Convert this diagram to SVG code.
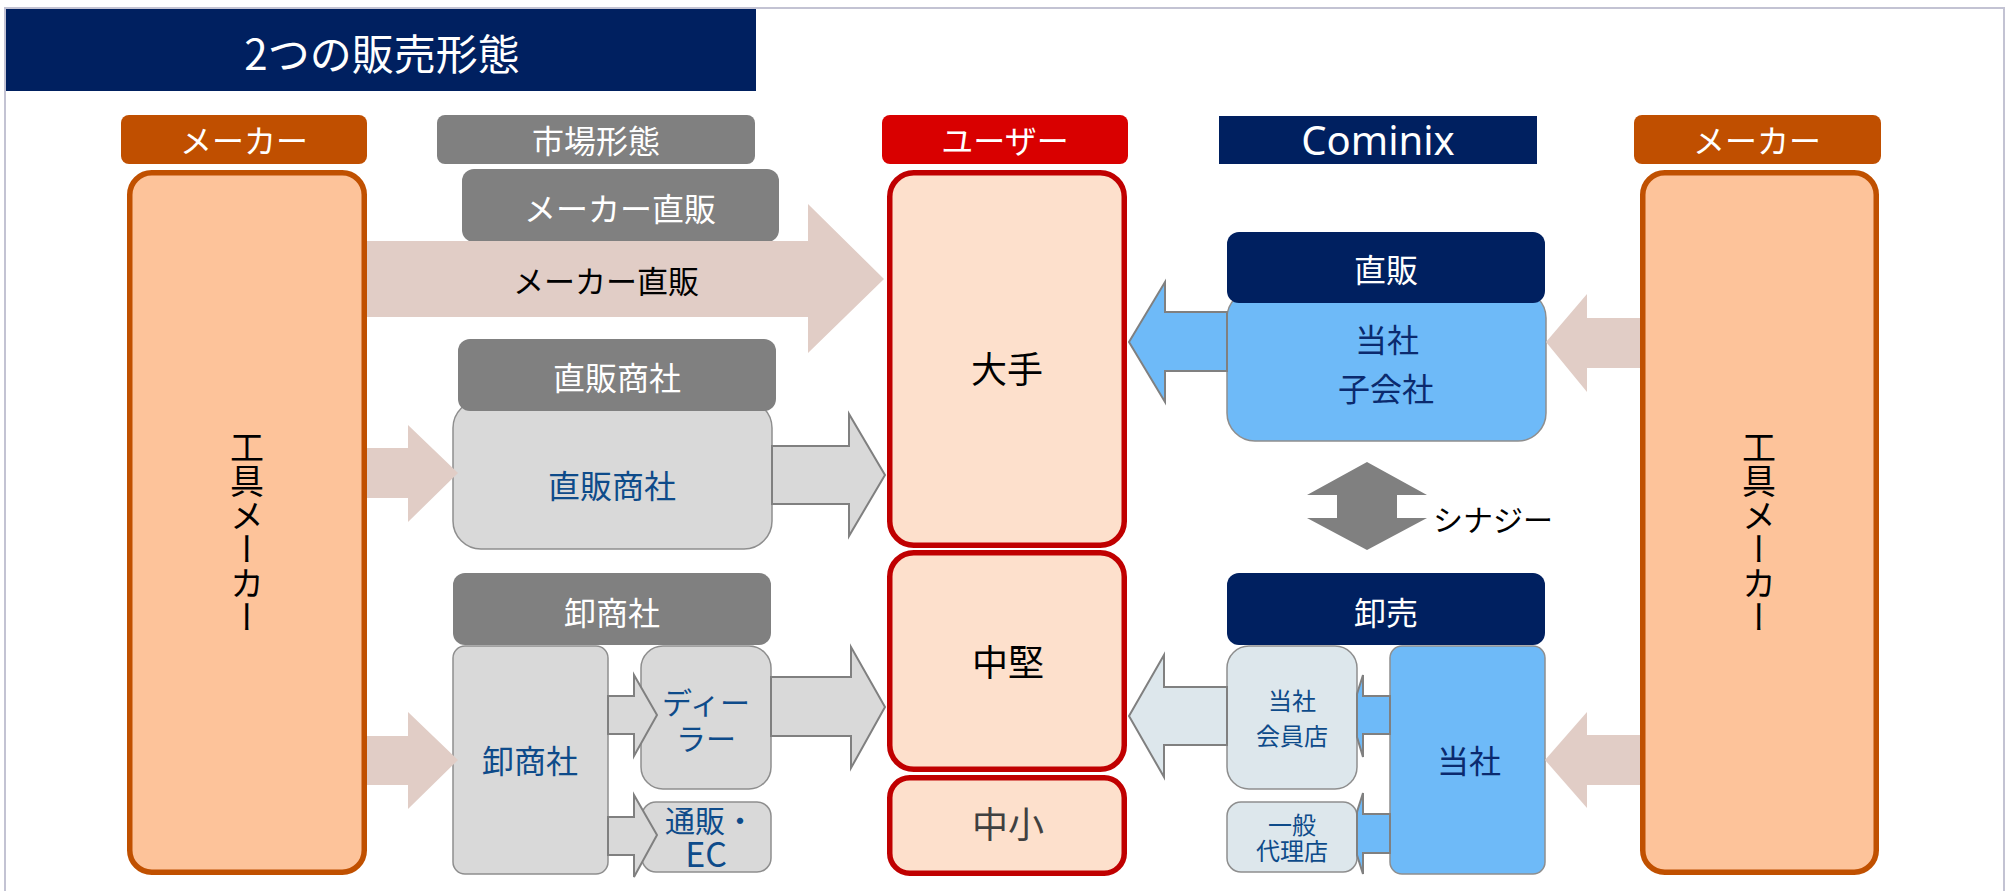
<svg xmlns="http://www.w3.org/2000/svg" width="2009" height="891" viewBox="0 0 2009 891">
<defs>
<style>
text{font-family:"Noto Sans CJK JP","Noto Sans",sans-serif;text-anchor:middle}
.w{fill:#ffffff;font-size:32px}
.tk{fill:#000000}
.tb{fill:#0E4B8A}
.tn{fill:#0B2A6E}
.navy{fill:#002060}
.olbl{fill:#C04F00}
.rlbl{fill:#D90000}
.maker{fill:#FDC39A;stroke:#C05000;stroke-width:5.5}
.user{fill:#FDE0CC;stroke:#C00000;stroke-width:5.5}
.hdr{fill:#808080}
.gbox{fill:#D9D9D9;stroke:#8E8E8E;stroke-width:1.5}
.bbox{fill:#6EBAF8;stroke:#8E8E8E;stroke-width:1.5}
.lbox{fill:#DDE7EC;stroke:#8E8E8E;stroke-width:1.5}
.pink{fill:#E1CDC6}
.garr{fill:#D9D9D9;stroke:#808080;stroke-width:2}
.barr{fill:#6EBAF8;stroke:#808080;stroke-width:2}
.larr{fill:#DDE7EC;stroke:#808080;stroke-width:2}
.vert{writing-mode:vertical-rl;font-size:34px;fill:#000000}
</style>
</defs>
<rect x="5" y="8" width="1999" height="900" fill="none" stroke="#C3C3D3" stroke-width="2"/>
<g id="title">
<rect x="6" y="9" width="750" height="82" class="navy"/>
<text x="382" y="70" style="font-size:42px;fill:#fff">2つの販売形態</text>
</g>
<g id="label-maker-left">
<rect x="121" y="115" width="246" height="49" rx="8" class="olbl"/>
<text x="244" y="153" class="w">メーカー</text>
</g>
<g id="label-market">
<rect x="437" y="115" width="318" height="49" rx="8" class="hdr"/>
<text x="596" y="153" class="w">市場形態</text>
</g>
<g id="label-user">
<rect x="882" y="115" width="246" height="49" rx="8" class="rlbl"/>
<text x="1005" y="153" class="w">ユーザー</text>
</g>
<g id="label-cominix">
<rect x="1219" y="116" width="318" height="48" class="navy"/>
<text x="1378" y="155" style="font-family:'Noto Sans',sans-serif;font-size:40px;fill:#fff">Cominix</text>
</g>
<g id="label-maker-right">
<rect x="1634" y="115" width="247" height="49" rx="8" class="olbl"/>
<text x="1757" y="153" class="w">メーカー</text>
</g>
<g id="maker-left">
<rect x="129.75" y="172.75" width="234.5" height="699.5" rx="22" class="maker"/>
<text x="247" y="532" class="vert">工具メーカー</text>
</g>
<g id="maker-right">
<rect x="1642.75" y="172.75" width="233.5" height="699.5" rx="22" class="maker"/>
<text x="1759" y="532" class="vert">工具メーカー</text>
</g>
<g id="user-large">
<rect x="889.75" y="172.75" width="234.5" height="372.5" rx="24" class="user"/>
<text x="1007" y="383" class="tk" style="font-size:36px">大手</text>
</g>
<g id="user-mid">
<rect x="889.75" y="552.75" width="234.5" height="216.5" rx="24" class="user"/>
<text x="1008" y="676" class="tk" style="font-size:36px">中堅</text>
</g>
<g id="user-small">
<rect x="889.75" y="777.75" width="234.5" height="95.5" rx="20" class="user"/>
<text x="1008" y="838" style="font-size:36px;fill:#404040">中小</text>
</g>
<g id="maker-direct-header">
<rect x="462" y="169" width="317" height="73" rx="12" class="hdr"/>
<text x="620" y="221" class="w">メーカー直販</text>
</g>
<g id="direct-trader">
<rect x="453" y="400" width="319" height="149" rx="28" class="gbox"/>
<rect x="458" y="339" width="318" height="72" rx="12" class="hdr"/>
<text x="617" y="390" class="w">直販商社</text>
<text x="612" y="498" class="tb" style="font-size:32px">直販商社</text>
</g>
<g id="wholesaler">
<rect x="453" y="573" width="318" height="72" rx="12" class="hdr"/>
<text x="612" y="625" class="w">卸商社</text>
<rect x="453" y="646" width="155" height="228" rx="12" class="gbox"/>
<text x="530" y="773" class="tb" style="font-size:32px">卸商社</text>
</g>
<g id="dealer">
<rect x="641" y="646" width="130" height="143" rx="22" class="gbox"/>
<text class="tb" style="font-size:30px"><tspan x="706" y="714">ディー</tspan><tspan x="706" y="750">ラー</tspan></text>
</g>
<g id="mail-order">
<rect x="642" y="802" width="129" height="70" rx="14" class="gbox"/>
<text class="tb" style="font-size:30px"><tspan x="710" y="832">通販・</tspan><tspan x="706" y="867" style="font-size:34px">EC</tspan></text>
</g>
<g id="cominix-direct">
<rect x="1227" y="290" width="319" height="151" rx="28" class="bbox"/>
<rect x="1227" y="232" width="318" height="71" rx="12" class="navy"/>
<text x="1386" y="282" class="w">直販</text>
<text class="tn" style="font-size:32px"><tspan x="1387" y="352">当社</tspan><tspan x="1386" y="401">子会社</tspan></text>
</g>
<g id="cominix-wholesale">
<rect x="1227" y="573" width="318" height="72" rx="12" class="navy"/>
<text x="1386" y="625" class="w">卸売</text>
</g>
<g id="member-store">
<rect x="1227" y="646" width="130" height="143" rx="22" class="lbox"/>
<text class="tb" style="font-size:24px"><tspan x="1292" y="710">当社</tspan><tspan x="1292" y="745">会員店</tspan></text>
</g>
<g id="general-agent">
<rect x="1227" y="802" width="130" height="70" rx="14" class="lbox"/>
<text class="tb" style="font-size:24px"><tspan x="1292" y="834">一般</tspan><tspan x="1292" y="860">代理店</tspan></text>
</g>
<g id="company">
<rect x="1390" y="646" width="155" height="228" rx="12" class="bbox"/>
<text x="1469" y="773" class="tn" style="font-size:32px">当社</text>
</g>
<g id="connectors">
<polygon class="pink" points="367,241 808,241 808,204 884,279 808,353 808,317 367,317"/>
<text x="606" y="293" class="tk" style="font-size:31px">メーカー直販</text>
<polygon class="pink" points="367,448 408,448 408,425 458,473 408,522 408,498 367,498"/>
<polygon class="pink" points="367,736 408,736 408,712 458,760 408,809 408,785 367,785"/>
<polygon class="garr" points="772,446 849,446 849,414 885,475 849,536 849,504 772,504"/>
<polygon class="garr" points="771,677 851,677 851,647 885,707 851,768 851,736 771,736"/>
<polygon class="garr" points="608,696 634,696 634,675 657,715 634,756 634,734 608,734"/>
<polygon class="garr" points="608,817 634,817 634,795 657,835 634,877 634,855 608,855"/>
<polygon class="barr" points="1227,312 1165,312 1165,282 1129,342 1165,402 1165,371 1227,371"/>
<polygon class="larr" points="1227,687 1164,687 1164,655 1129,716 1164,777 1164,745 1227,745"/>
<polygon class="pink" points="1640,318 1587,318 1587,294 1546,342 1587,392 1587,368 1640,368"/>
<polygon class="pink" points="1640,735 1587,735 1587,712 1545,760 1587,808 1587,785 1640,785"/>
<polygon class="barr" points="1390,696 1363,696 1363,675 1357,694 1357,737 1363,757 1363,734 1390,734"/>
<polygon class="barr" points="1390,814 1363,814 1363,793 1357,812 1357,855 1363,874 1363,853 1390,853"/>
<polygon fill="#808080" points="1367,462 1427,495 1397,495 1397,518 1427,518 1367,550 1307,518 1337,518 1337,495 1307,495"/>
<text x="1433" y="531" class="tk" style="font-size:30px;text-anchor:start">シナジー</text>
</g>
</svg>
